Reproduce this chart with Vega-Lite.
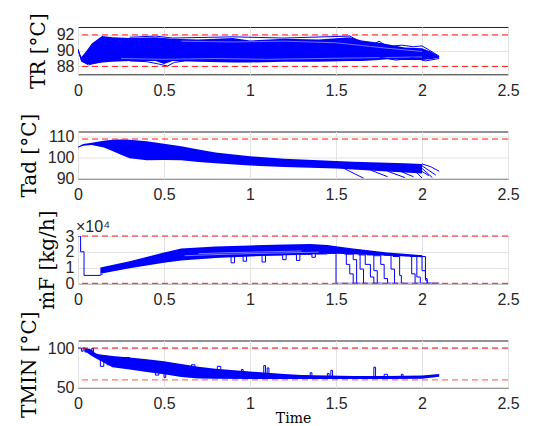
{
  "$schema": "https://vega.github.io/schema/vega-lite/v6.json",
  "padding": {"left": 18, "top": 12, "right": 10, "bottom": 0},
  "spacing": 56.5,
  "bounds": "flush",
  "datasets": {
    "b1": [
      {"t": 0, "lo": 89.9, "hi": 90.2}, {"t": 0.02, "lo": 88.6, "hi": 89.2}, {"t": 0.05, "lo": 88.3, "hi": 90.0},
      {"t": 0.08, "lo": 88.3, "hi": 90.9}, {"t": 0.14, "lo": 88.5, "hi": 91.85}, {"t": 0.2, "lo": 88.6, "hi": 91.7},
      {"t": 0.3, "lo": 88.7, "hi": 91.6}, {"t": 0.45, "lo": 88.7, "hi": 91.7}, {"t": 0.5, "lo": 88.3, "hi": 91.6},
      {"t": 0.55, "lo": 88.7, "hi": 91.5}, {"t": 0.7, "lo": 88.6, "hi": 91.4}, {"t": 0.9, "lo": 88.5, "hi": 91.6},
      {"t": 1.0, "lo": 88.5, "hi": 91.3}, {"t": 1.2, "lo": 88.6, "hi": 91.5}, {"t": 1.4, "lo": 88.6, "hi": 91.4},
      {"t": 1.58, "lo": 88.7, "hi": 91.7}, {"t": 1.65, "lo": 88.7, "hi": 91.3}, {"t": 1.75, "lo": 88.8, "hi": 91.0},
      {"t": 1.8, "lo": 88.9, "hi": 90.8}, {"t": 1.9, "lo": 88.8, "hi": 90.4}, {"t": 2.0, "lo": 88.8, "hi": 90.3},
      {"t": 2.05, "lo": 88.9, "hi": 89.9}, {"t": 2.1, "lo": 89.1, "hi": 89.3}
    ],
    "l1": [
      {"id": "a", "t": 0, "v": 90.2}, {"id": "a", "t": 0.02, "v": 88.7}, {"id": "a", "t": 0.06, "v": 88.2}, {"id": "a", "t": 0.1, "v": 88.4}, {"id": "a", "t": 0.14, "v": 88.6},
      {"id": "b", "t": 0.3, "v": 88.7}, {"id": "b", "t": 0.4, "v": 88.6}, {"id": "b", "t": 0.47, "v": 88.3}, {"id": "b", "t": 0.52, "v": 88.05}, {"id": "b", "t": 0.56, "v": 88.5}, {"id": "b", "t": 0.62, "v": 88.7},
      {"id": "c", "t": 1.7, "v": 90.6}, {"id": "c", "t": 1.75, "v": 91.2}, {"id": "c", "t": 1.8, "v": 90.5}, {"id": "c", "t": 1.88, "v": 90.7}, {"id": "c", "t": 1.95, "v": 90.5}, {"id": "c", "t": 2.0, "v": 90.6}, {"id": "c", "t": 2.04, "v": 90.1}, {"id": "c", "t": 2.1, "v": 89.3},
      {"id": "d", "t": 1.75, "v": 89.2}, {"id": "d", "t": 1.85, "v": 88.8}, {"id": "d", "t": 1.95, "v": 89.1}, {"id": "d", "t": 2.02, "v": 88.7}, {"id": "d", "t": 2.1, "v": 89.0},
      {"id": "e", "t": 0.3, "v": 91.7}, {"id": "e", "t": 0.45, "v": 91.85}, {"id": "e", "t": 0.55, "v": 91.6}, {"id": "e", "t": 0.9, "v": 91.75}, {"id": "e", "t": 1.2, "v": 91.6}, {"id": "e", "t": 1.58, "v": 91.85}, {"id": "e", "t": 1.62, "v": 91.4}
    ],
    "w1": [
      {"id": "a", "t": 0.25, "v": 89.0}, {"id": "a", "t": 0.5, "v": 88.9}, {"id": "a", "t": 0.8, "v": 89.0}, {"id": "a", "t": 1.1, "v": 88.9}, {"id": "a", "t": 1.4, "v": 89.0}, {"id": "a", "t": 1.7, "v": 89.1}, {"id": "a", "t": 2.0, "v": 89.2},
      {"id": "b", "t": 0.6, "v": 91.2}, {"id": "b", "t": 0.9, "v": 91.1}, {"id": "b", "t": 1.2, "v": 91.2}, {"id": "b", "t": 1.5, "v": 91.0}, {"id": "b", "t": 1.8, "v": 90.3}, {"id": "b", "t": 2.0, "v": 89.9}
    ],
    "th1": [{"v": 92}, {"v": 88}],
    "b2": [
      {"t": 0, "lo": 104.8, "hi": 105.3}, {"t": 0.03, "lo": 105.8, "hi": 106.6}, {"t": 0.08, "lo": 106.2, "hi": 107.2},
      {"t": 0.15, "lo": 105.0, "hi": 108.2}, {"t": 0.2, "lo": 103.3, "hi": 108.6}, {"t": 0.25, "lo": 101.5, "hi": 108.8},
      {"t": 0.3, "lo": 99.8, "hi": 108.7}, {"t": 0.4, "lo": 98.9, "hi": 107.9}, {"t": 0.5, "lo": 99.0, "hi": 106.8},
      {"t": 0.6, "lo": 98.9, "hi": 105.6}, {"t": 0.7, "lo": 98.0, "hi": 104.0}, {"t": 0.8, "lo": 97.4, "hi": 102.6},
      {"t": 1.0, "lo": 96.3, "hi": 100.8}, {"t": 1.2, "lo": 95.6, "hi": 99.6}, {"t": 1.5, "lo": 94.9, "hi": 98.5},
      {"t": 1.6, "lo": 94.5, "hi": 98.2}, {"t": 1.8, "lo": 93.5, "hi": 97.7}, {"t": 1.9, "lo": 93.0, "hi": 97.4},
      {"t": 2.0, "lo": 92.5, "hi": 97.1}
    ],
    "l2": [
      {"id": "a", "t": 1.55, "v": 94.8}, {"id": "a", "t": 1.66, "v": 90.3},
      {"id": "b", "t": 1.7, "v": 94.2}, {"id": "b", "t": 1.8, "v": 91.0},
      {"id": "c", "t": 1.8, "v": 93.6}, {"id": "c", "t": 1.9, "v": 90.6},
      {"id": "d", "t": 1.88, "v": 93.4}, {"id": "d", "t": 1.95, "v": 91.0},
      {"id": "e", "t": 1.95, "v": 94.5}, {"id": "e", "t": 2.0, "v": 90.4},
      {"id": "f", "t": 2.0, "v": 97.1}, {"id": "f", "t": 2.05, "v": 95.8}, {"id": "f", "t": 2.1, "v": 93.6},
      {"id": "g", "t": 2.0, "v": 96.2}, {"id": "g", "t": 2.08, "v": 91.8},
      {"id": "h", "t": 2.0, "v": 95.0}, {"id": "h", "t": 2.06, "v": 90.6},
      {"id": "i", "t": 2.0, "v": 93.5}, {"id": "i", "t": 2.04, "v": 91.5}
    ],
    "th2": [{"v": 109}],
    "b3": [
      {"t": 0.13, "lo": 6000, "hi": 10000}, {"t": 0.3, "lo": 9500, "hi": 14000}, {"t": 0.5, "lo": 13000, "hi": 19500},
      {"t": 0.6, "lo": 14500, "hi": 22000}, {"t": 0.8, "lo": 16000, "hi": 23300}, {"t": 1.0, "lo": 17000, "hi": 24000},
      {"t": 1.2, "lo": 17800, "hi": 24600}, {"t": 1.35, "lo": 18300, "hi": 25000}, {"t": 1.45, "lo": 18700, "hi": 24300},
      {"t": 1.5, "lo": 18800, "hi": 23500}, {"t": 1.6, "lo": 18500, "hi": 22000}, {"t": 1.8, "lo": 17500, "hi": 19500},
      {"t": 1.95, "lo": 16800, "hi": 18200}, {"t": 2.0, "lo": 16500, "hi": 17800}
    ],
    "w3": [
      {"id": "a", "t": 0.62, "v": 17500}, {"id": "a", "t": 0.8, "v": 18200}, {"id": "a", "t": 1.0, "v": 18800}, {"id": "a", "t": 1.2, "v": 19300}, {"id": "a", "t": 1.4, "v": 19800},
      {"id": "b", "t": 0.7, "v": 18800}, {"id": "b", "t": 0.9, "v": 19500}, {"id": "b", "t": 1.1, "v": 20000}, {"id": "b", "t": 1.3, "v": 20500}
    ],
    "l3": [
      {"id": "init", "t": 0, "v": 30000}, {"id": "init", "t": 0.015, "v": 20000}, {"id": "init", "t": 0.035, "v": 5000}, {"id": "init", "t": 0.13, "v": 5500}, {"id": "init", "t": 0.14, "v": 6000},
      {"id": "n", "t": 0.85, "v": 17500}, {"id": "n", "t": 0.89, "v": 13000}, {"id": "n", "t": 0.91, "v": 17500}, {"id": "n", "t": 0.96, "v": 14000}, {"id": "n", "t": 0.98, "v": 17800},
      {"id": "n", "t": 1.07, "v": 13500}, {"id": "n", "t": 1.09, "v": 18000}, {"id": "n", "t": 1.19, "v": 15000}, {"id": "n", "t": 1.21, "v": 18200},
      {"id": "n", "t": 1.27, "v": 14500}, {"id": "n", "t": 1.29, "v": 18400}, {"id": "n", "t": 1.36, "v": 16500}, {"id": "n", "t": 1.38, "v": 18600}, {"id": "n", "t": 1.45, "v": 18700},
      {"id": "d1", "t": 1.45, "v": 19000}, {"id": "d1", "t": 1.5, "v": 0}, {"id": "d1", "t": 2.1, "v": 0},
      {"id": "d2", "t": 1.52, "v": 19500}, {"id": "d2", "t": 1.56, "v": 12000}, {"id": "d2", "t": 1.58, "v": 6000}, {"id": "d2", "t": 1.6, "v": 0}, {"id": "d2", "t": 1.62, "v": 0},
      {"id": "d3", "t": 1.55, "v": 18500}, {"id": "d3", "t": 1.6, "v": 15000}, {"id": "d3", "t": 1.62, "v": 0}, {"id": "d3", "t": 1.64, "v": 0},
      {"id": "d4", "t": 1.6, "v": 19000}, {"id": "d4", "t": 1.64, "v": 9000}, {"id": "d4", "t": 1.66, "v": 0}, {"id": "d4", "t": 1.68, "v": 0},
      {"id": "d5", "t": 1.63, "v": 18000}, {"id": "d5", "t": 1.67, "v": 12000}, {"id": "d5", "t": 1.7, "v": 4000}, {"id": "d5", "t": 1.72, "v": 0}, {"id": "d5", "t": 1.74, "v": 0},
      {"id": "d6", "t": 1.68, "v": 18000}, {"id": "d6", "t": 1.72, "v": 8000}, {"id": "d6", "t": 1.74, "v": 0}, {"id": "d6", "t": 1.76, "v": 0},
      {"id": "d7", "t": 1.72, "v": 17500}, {"id": "d7", "t": 1.76, "v": 12000}, {"id": "d7", "t": 1.78, "v": 3000}, {"id": "d7", "t": 1.8, "v": 0}, {"id": "d7", "t": 1.82, "v": 0},
      {"id": "d8", "t": 1.78, "v": 17800}, {"id": "d8", "t": 1.82, "v": 9000}, {"id": "d8", "t": 1.84, "v": 0}, {"id": "d8", "t": 1.86, "v": 0},
      {"id": "d9", "t": 1.83, "v": 17000}, {"id": "d9", "t": 1.87, "v": 5000}, {"id": "d9", "t": 1.88, "v": 0}, {"id": "d9", "t": 1.9, "v": 0},
      {"id": "d10", "t": 1.9, "v": 17500}, {"id": "d10", "t": 1.94, "v": 6000}, {"id": "d10", "t": 1.96, "v": 0}, {"id": "d10", "t": 1.98, "v": 0},
      {"id": "d11", "t": 1.93, "v": 17000}, {"id": "d11", "t": 1.97, "v": 4000}, {"id": "d11", "t": 1.99, "v": 0}, {"id": "d11", "t": 2.0, "v": 0},
      {"id": "d12", "t": 1.97, "v": 17500}, {"id": "d12", "t": 2.0, "v": 8000}, {"id": "d12", "t": 2.02, "v": 2000}, {"id": "d12", "t": 2.03, "v": 0}, {"id": "d12", "t": 2.05, "v": 0},
      {"id": "d13", "t": 2.0, "v": 17000}, {"id": "d13", "t": 2.02, "v": 3000}, {"id": "d13", "t": 2.03, "v": 0}, {"id": "d13", "t": 2.1, "v": 0}
    ],
    "th3": [{"v": 0}, {"v": 30000}],
    "lab3": [{"t": 0, "v": 30000, "txt": "×10⁴"}],
    "b4": [
      {"t": 0.04, "lo": 96, "hi": 100}, {"t": 0.08, "lo": 90, "hi": 98}, {"t": 0.1, "lo": 87.5, "hi": 93.5},
      {"t": 0.13, "lo": 84, "hi": 92}, {"t": 0.2, "lo": 76, "hi": 90}, {"t": 0.3, "lo": 73, "hi": 88},
      {"t": 0.4, "lo": 70, "hi": 86}, {"t": 0.5, "lo": 67, "hi": 83.5}, {"t": 0.6, "lo": 63.5, "hi": 80},
      {"t": 0.7, "lo": 61.8, "hi": 76.5}, {"t": 0.8, "lo": 61.3, "hi": 74}, {"t": 1.0, "lo": 61, "hi": 70.5},
      {"t": 1.2, "lo": 61, "hi": 67.5}, {"t": 1.3, "lo": 61, "hi": 66}, {"t": 1.6, "lo": 61, "hi": 64.8},
      {"t": 1.8, "lo": 61.2, "hi": 64.8}, {"t": 2.0, "lo": 61.5, "hi": 65.5}, {"t": 2.1, "lo": 64, "hi": 67.5}
    ],
    "l4": [
      {"id": "init", "t": 0, "v": 100}, {"id": "init", "t": 0.02, "v": 96}, {"id": "init", "t": 0.03, "v": 100}, {"id": "init", "t": 0.04, "v": 95}, {"id": "init", "t": 0.05, "v": 98.5},
      {"id": "init", "t": 0.07, "v": 94}, {"id": "init", "t": 0.08, "v": 99.5}, {"id": "init", "t": 0.09, "v": 93.5}, {"id": "init", "t": 0.1, "v": 92},
      {"id": "dn", "t": 0.12, "v": 90}, {"id": "dn", "t": 0.13, "v": 77}, {"id": "dn", "t": 0.15, "v": 90}, {"id": "dn", "t": 0.17, "v": 79}, {"id": "dn", "t": 0.19, "v": 88},
      {"id": "dn", "t": 0.3, "v": 80}, {"id": "dn", "t": 0.44, "v": 78}, {"id": "dn", "t": 0.45, "v": 66}, {"id": "dn", "t": 0.47, "v": 77}, {"id": "dn", "t": 0.5, "v": 63},
      {"id": "dn", "t": 0.51, "v": 76}, {"id": "dn", "t": 0.52, "v": 74},
      {"id": "up", "t": 0.64, "v": 72}, {"id": "up", "t": 0.66, "v": 79}, {"id": "up", "t": 0.68, "v": 72}, {"id": "up", "t": 0.8, "v": 68}, {"id": "up", "t": 0.81, "v": 77},
      {"id": "up", "t": 0.83, "v": 68}, {"id": "up", "t": 0.94, "v": 66}, {"id": "up", "t": 0.95, "v": 73}, {"id": "up", "t": 0.96, "v": 66}, {"id": "up", "t": 1.07, "v": 65},
      {"id": "up", "t": 1.08, "v": 78}, {"id": "up", "t": 1.09, "v": 65}, {"id": "up", "t": 1.1, "v": 75}, {"id": "up", "t": 1.11, "v": 65}, {"id": "up", "t": 1.34, "v": 63},
      {"id": "up", "t": 1.35, "v": 69}, {"id": "up", "t": 1.36, "v": 63}, {"id": "up", "t": 1.44, "v": 63}, {"id": "up", "t": 1.45, "v": 68}, {"id": "up", "t": 1.46, "v": 63},
      {"id": "up", "t": 1.47, "v": 72}, {"id": "up", "t": 1.48, "v": 63}, {"id": "up", "t": 1.71, "v": 63}, {"id": "up", "t": 1.72, "v": 76}, {"id": "up", "t": 1.73, "v": 63},
      {"id": "up", "t": 1.77, "v": 64}, {"id": "up", "t": 1.78, "v": 67}, {"id": "up", "t": 1.8, "v": 64}, {"id": "up", "t": 1.87, "v": 64}, {"id": "up", "t": 1.88, "v": 67},
      {"id": "up", "t": 1.89, "v": 64}, {"id": "up", "t": 2.0, "v": 64}
    ],
    "th4a": [{"v": 100}],
    "th4b": [{"v": 60}]
  },
  "vconcat": [
    {
      "width": 430, "height": 47.3,
      "layer": [
        {"data": {"name": "b1"}, "mark": {"type": "area", "color": "#0000ff", "clip": true},
         "encoding": {
           "x": {"field": "t", "type": "quantitative", "scale": {"domain": [0, 2.5], "nice": false}, "axis": {"values": [0, 0.5, 1, 1.5, 2, 2.5], "format": "~g", "title": null, "labelOverlap": false}},
           "y": {"field": "lo", "type": "quantitative", "scale": {"domain": [87, 93], "nice": false, "zero": false}, "axis": {"values": [88, 90, 92], "title": "TR [°C]", "labelOverlap": false}},
           "y2": {"field": "hi"}}},
        {"data": {"name": "w1"}, "mark": {"type": "line", "color": "#ffffff", "opacity": 0.55, "strokeWidth": 0.8, "clip": true},
         "encoding": {"x": {"field": "t", "type": "quantitative"}, "y": {"field": "v", "type": "quantitative", "axis": {"values": [88, 90, 92], "title": "TR [°C]", "labelOverlap": false}}, "detail": {"field": "id"}}},
        {"data": {"name": "l1"}, "mark": {"type": "line", "color": "#0000ff", "strokeWidth": 1, "clip": true},
         "encoding": {"x": {"field": "t", "type": "quantitative"}, "y": {"field": "v", "type": "quantitative", "axis": {"values": [88, 90, 92], "title": "TR [°C]", "labelOverlap": false}}, "detail": {"field": "id"}}},
        {"data": {"name": "th1"}, "mark": {"type": "rule", "color": "#ff1a1a", "strokeDash": [6, 4], "strokeWidth": 1},
         "encoding": {"y": {"field": "v", "type": "quantitative", "axis": {"values": [88, 90, 92], "title": "TR [°C]", "labelOverlap": false}}}}
      ]
    },
    {
      "width": 430, "height": 47.3,
      "layer": [
        {"data": {"name": "b2"}, "mark": {"type": "area", "color": "#0000ff", "clip": true},
         "encoding": {
           "x": {"field": "t", "type": "quantitative", "scale": {"domain": [0, 2.5], "nice": false}, "axis": {"values": [0, 0.5, 1, 1.5, 2, 2.5], "format": "~g", "title": null, "labelOverlap": false}},
           "y": {"field": "lo", "type": "quantitative", "scale": {"domain": [90, 112.6], "nice": false, "zero": false}, "axis": {"values": [90, 100, 110], "title": "Tad [°C]", "labelOverlap": false}},
           "y2": {"field": "hi"}}},
        {"data": {"name": "l2"}, "mark": {"type": "line", "color": "#0000ff", "strokeWidth": 1, "clip": true},
         "encoding": {"x": {"field": "t", "type": "quantitative"}, "y": {"field": "v", "type": "quantitative", "axis": {"values": [90, 100, 110], "title": "Tad [°C]", "labelOverlap": false}}, "detail": {"field": "id"}}},
        {"data": {"name": "th2"}, "mark": {"type": "rule", "color": "#ff1a1a", "strokeDash": [6, 4], "strokeWidth": 1},
         "encoding": {"y": {"field": "v", "type": "quantitative", "axis": {"values": [90, 100, 110], "title": "Tad [°C]", "labelOverlap": false}}}}
      ]
    },
    {
      "width": 430, "height": 47.3,
      "layer": [
        {"data": {"name": "b3"}, "mark": {"type": "area", "color": "#0000ff", "clip": true},
         "encoding": {
           "x": {"field": "t", "type": "quantitative", "scale": {"domain": [0, 2.5], "nice": false}, "axis": {"values": [0, 0.5, 1, 1.5, 2, 2.5], "format": "~g", "title": null, "labelOverlap": false}},
           "y": {"field": "lo", "type": "quantitative", "scale": {"domain": [0, 30000], "nice": false}, "axis": {"values": [0, 10000, 20000, 30000], "labelExpr": "datum.value / 10000", "title": "ṁF [kg/h]", "labelOverlap": false}},
           "y2": {"field": "hi"}}},
        {"data": {"name": "w3"}, "mark": {"type": "line", "color": "#ffffff", "opacity": 0.6, "strokeWidth": 0.8, "clip": true},
         "encoding": {"x": {"field": "t", "type": "quantitative"}, "y": {"field": "v", "type": "quantitative", "axis": {"values": [0, 10000, 20000, 30000], "labelExpr": "datum.value / 10000", "title": "ṁF [kg/h]", "labelOverlap": false}}, "detail": {"field": "id"}}},
        {"data": {"name": "l3"}, "mark": {"type": "line", "color": "#0000ff", "strokeWidth": 1, "interpolate": "step-after", "clip": true},
         "encoding": {"x": {"field": "t", "type": "quantitative"}, "y": {"field": "v", "type": "quantitative", "axis": {"values": [0, 10000, 20000, 30000], "labelExpr": "datum.value / 10000", "title": "ṁF [kg/h]", "labelOverlap": false}}, "detail": {"field": "id"}}},
        {"data": {"name": "th3"}, "mark": {"type": "rule", "color": "#ff1a1a", "strokeDash": [6, 4], "strokeWidth": 1},
         "encoding": {"y": {"field": "v", "type": "quantitative", "axis": {"values": [0, 10000, 20000, 30000], "labelExpr": "datum.value / 10000", "title": "ṁF [kg/h]", "labelOverlap": false}}}},
        {"data": {"name": "lab3"}, "mark": {"type": "text", "align": "left", "baseline": "bottom", "dy": -1, "dx": -2, "font": "Liberation Sans", "fontSize": 16, "color": "#262626"},
         "encoding": {"x": {"field": "t", "type": "quantitative"}, "y": {"field": "v", "type": "quantitative", "axis": {"values": [0, 10000, 20000, 30000], "labelExpr": "datum.value / 10000", "title": "ṁF [kg/h]", "labelOverlap": false}}, "text": {"field": "txt"}}}
      ]
    },
    {
      "width": 430, "height": 47.3,
      "layer": [
        {"data": {"name": "b4"}, "mark": {"type": "area", "color": "#0000ff", "clip": true},
         "encoding": {
           "x": {"field": "t", "type": "quantitative", "scale": {"domain": [0, 2.5], "nice": false}, "axis": {"values": [0, 0.5, 1, 1.5, 2, 2.5], "format": "~g", "title": "Time", "titleFontSize": 14, "titlePadding": 0, "labelOverlap": false}},
           "y": {"field": "lo", "type": "quantitative", "scale": {"domain": [50, 109.5], "nice": false, "zero": false}, "axis": {"values": [50, 100], "title": "TMIN [°C]", "labelOverlap": false}},
           "y2": {"field": "hi"}}},
        {"data": {"name": "l4"}, "mark": {"type": "line", "color": "#0000ff", "strokeWidth": 1, "interpolate": "step-after", "clip": true},
         "encoding": {"x": {"field": "t", "type": "quantitative"}, "y": {"field": "v", "type": "quantitative", "axis": {"values": [50, 100], "title": "TMIN [°C]", "labelOverlap": false}}, "detail": {"field": "id"}}},
        {"data": {"name": "th4a"}, "mark": {"type": "rule", "color": "#e60000", "strokeDash": [6, 4], "strokeWidth": 1},
         "encoding": {"y": {"field": "v", "type": "quantitative", "axis": {"values": [50, 100], "title": "TMIN [°C]", "labelOverlap": false}}}},
        {"data": {"name": "th4b"}, "mark": {"type": "rule", "color": "#ff7373", "strokeDash": [6, 4], "strokeWidth": 1.2},
         "encoding": {"y": {"field": "v", "type": "quantitative", "axis": {"values": [50, 100], "title": "TMIN [°C]", "labelOverlap": false}}}}
      ]
    }
  ],
  "config": {
    "view": {"stroke": "#262626", "strokeWidth": 1},
    "axis": {
      "labelFont": "Liberation Sans", "labelFontSize": 16, "labelColor": "#262626", "labelOverlap": false, "labelFlush": false,
      "ticks": false, "domain": false, "grid": true, "gridColor": "#e3e3e3",
      "titleFont": "DejaVu Serif", "titleFontWeight": "normal", "titleFontSize": 20, "titleColor": "#000000"
    },
    "axisX": {"labelPadding": 8},
    "axisY": {"labelPadding": 4, "titlePadding": 8}
  }
}
